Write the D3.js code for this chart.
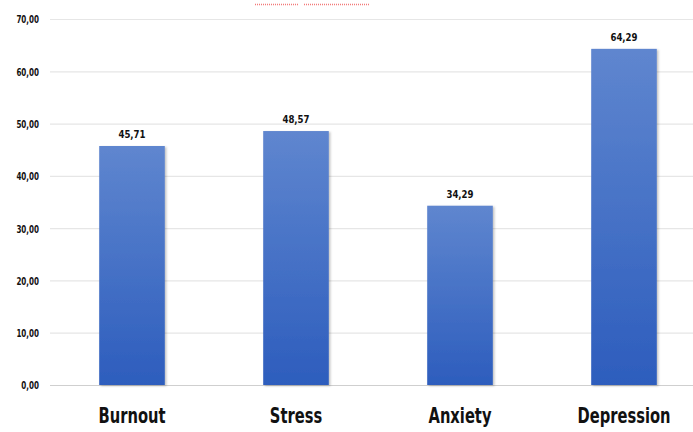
<!DOCTYPE html>
<html lang="en">
<head>
<meta charset="UTF-8" />
<title>Bar Chart</title>
<script src="https://d3js.org/d3.v7.min.js"></script>
<style>
  body { margin: 0; background: #fff; }
  text { font-family: "DejaVu Sans", sans-serif; font-weight: bold; fill: #111; }
</style>
</head>
<body>
<div id="chart"></div>
<script>
// data
const categories = ["Burnout", "Stress", "Anxiety", "Depression"];
const values = [45.71, 48.57, 34.29, 64.29];
const yTicks = [0, 10, 20, 30, 40, 50, 60, 70];

const W = 693, H = 432;
const margin = { top: 19, right: -13, bottom: 47, left: 50 };
const width = W - margin.left - margin.right;
const height = H - margin.top - margin.bottom;

const fmt = d => d3.format(".2f")(d).replace(".", ",");

// narrow the text a bit (the original uses a condensed font)
function squeeze(sel, k) {
  sel.each(function () {
    const len = this.getComputedTextLength();
    d3.select(this).attr("textLength", len * k).attr("lengthAdjust", "spacingAndGlyphs");
  });
}

const svg = d3.select("#chart").append("svg")
  .attr("width", W).attr("height", H);

// gradient for bars
const defs = svg.append("defs");
const grad = defs.append("linearGradient").attr("id", "barGrad")
  .attr("x1", 0).attr("y1", 0).attr("x2", 0).attr("y2", 1);
grad.append("stop").attr("offset", "0%").attr("stop-color", "#5f86cf");
grad.append("stop").attr("offset", "100%").attr("stop-color", "#2d5dbd");
const shadow = defs.append("filter").attr("id", "shadow")
  .attr("x", "-10%").attr("y", "-10%").attr("width", "130%").attr("height", "120%");
shadow.append("feDropShadow").attr("dx", 1.5).attr("dy", 1).attr("stdDeviation", 1)
  .attr("flood-color", "#000").attr("flood-opacity", 0.25);

// small red dotted marks at the top
svg.append("line").attr("x1", 255).attr("x2", 299).attr("y1", 4.5).attr("y2", 4.5)
  .attr("stroke", "#f27a7a").attr("stroke-width", 1.6).attr("stroke-dasharray", "1,1");
svg.append("line").attr("x1", 304).attr("x2", 370).attr("y1", 4.5).attr("y2", 4.5)
  .attr("stroke", "#f27a7a").attr("stroke-width", 1.6).attr("stroke-dasharray", "1,1");

const g = svg.append("g").attr("transform", `translate(${margin.left},${margin.top})`);

const x = d3.scaleBand().domain(categories).range([0, width]).paddingInner(0.6).paddingOuter(0.3);
const y = d3.scaleLinear().domain([0, 70]).range([height, 0]);

// gridlines + y labels
const yAxis = g.append("g")
  .call(d3.axisLeft(y).tickValues(yTicks).tickSize(-W).tickPadding(11).tickFormat(fmt));
yAxis.select(".domain").remove();
yAxis.selectAll(".tick line")
  .attr("stroke", d => d === 0 ? "#cfcfcf" : "#e6e6e6").attr("stroke-width", 1.2);
yAxis.selectAll(".tick text").style("font-size", "11px").attr("fill", "#222")
  .attr("dy", "0.36em").call(squeeze, 0.65);

// bars
g.selectAll(".bar").data(values).enter().append("rect")
  .attr("class", "bar")
  .attr("x", (d, i) => x(categories[i]))
  .attr("y", d => y(d))
  .attr("width", x.bandwidth())
  .attr("height", d => height - y(d))
  .attr("fill", "url(#barGrad)")
  .attr("filter", "url(#shadow)");

// value labels
g.selectAll(".val").data(values).enter().append("text")
  .attr("class", "val")
  .attr("x", (d, i) => x(categories[i]) + x.bandwidth() / 2)
  .attr("y", d => y(d) - 8)
  .attr("text-anchor", "middle")
  .style("font-size", "11px")
  .text(fmt)
  .call(squeeze, 0.78);

// x axis labels
const xAxis = g.append("g").attr("transform", `translate(0,${height})`)
  .call(d3.axisBottom(x).tickSize(0).tickPadding(23));
xAxis.select(".domain").remove();
xAxis.selectAll(".tick text").style("font-size", "21px").attr("fill", "#111")
  .call(squeeze, 0.7);
</script>
</body>
</html>
